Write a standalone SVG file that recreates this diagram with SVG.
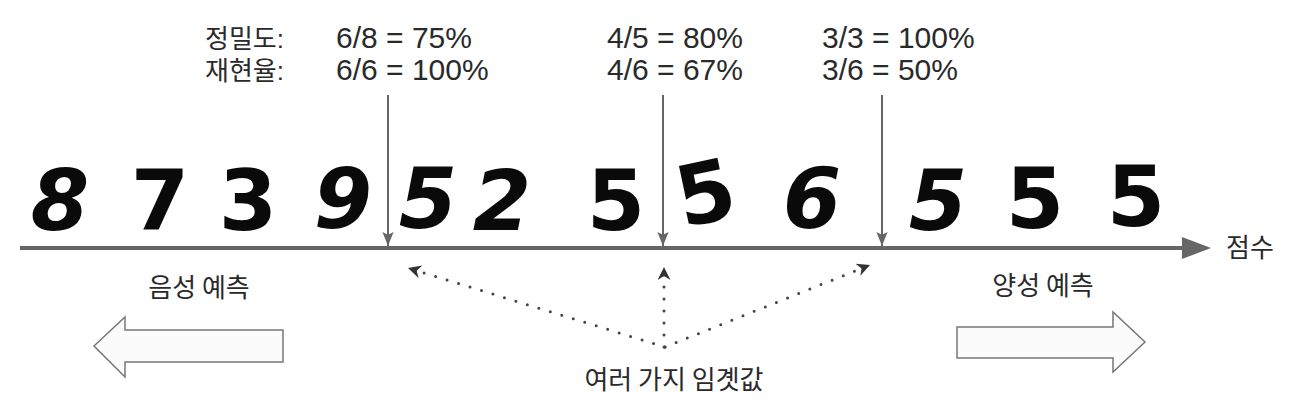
<svg xmlns="http://www.w3.org/2000/svg" width="1302" height="405" viewBox="0 0 1302 405">
<defs>
<style>
.lbl{font-family:"Liberation Sans","Noto Sans CJK KR",sans-serif;font-size:30px;fill:#2a2a2a}
.kr{font-family:"Noto Sans CJK KR","Liberation Sans",sans-serif;font-size:26px;fill:#2a2a2a}
.krl{font-family:"Liberation Sans","Noto Sans CJK KR",sans-serif;font-size:26px;fill:#2a2a2a}
.dg{font-family:"DejaVu Sans",sans-serif;font-weight:bold;font-size:84px;fill:#0a0a0a}
.thr{stroke:#666;stroke-width:2;fill:none}
.dot{stroke:#444;stroke-width:3;stroke-linecap:round;stroke-dasharray:0 12;fill:none}
.big{fill:#fbfbfb;stroke:#777;stroke-width:1.5}
</style>
<marker id="vh" viewBox="0 0 10 10" refX="10" refY="5" markerWidth="16" markerHeight="14" markerUnits="userSpaceOnUse" orient="auto"><path d="M0,1 L10,5 L0,9 L2,5 Z" fill="#666"/></marker>
<marker id="dh" viewBox="0 0 10 10" refX="10" refY="5" markerWidth="15" markerHeight="13" markerUnits="userSpaceOnUse" orient="auto"><path d="M0,0 L10,5 L0,10 L3,5 Z" fill="#333"/></marker>
</defs>
<rect width="1302" height="405" fill="#ffffff"/>

<g id="digits">
<text class="dg" x="60" y="230" text-anchor="middle" font-style="italic">8</text>
<text class="dg" x="160" y="230" text-anchor="middle">7</text>
<text class="dg" x="248" y="230" text-anchor="middle">3</text>
<text class="dg" x="343" y="228" text-anchor="middle" font-style="italic" font-weight="normal">9</text>
<text class="dg" x="428" y="228" text-anchor="middle" font-style="italic" font-weight="normal">5</text>
<text class="dg" x="502" y="230" text-anchor="middle" font-style="italic" font-weight="normal">2</text>
<text class="dg" x="616" y="230" text-anchor="middle" font-weight="normal">5</text>
<text class="dg" x="708" y="222" text-anchor="middle" font-weight="normal" font-size="58" transform="rotate(-12 708 205)">5</text>
<text class="dg" x="812" y="228" text-anchor="middle" font-style="italic">6</text>
<text class="dg" x="938" y="230" text-anchor="middle" font-style="italic">5</text>
<text class="dg" x="1035" y="228" text-anchor="middle" font-weight="normal">5</text>
<text class="dg" x="1136" y="226" text-anchor="middle">5</text>
</g>

<g id="connectors">
<line x1="20" y1="248" x2="1184" y2="248" stroke="#666" stroke-width="4"/>
<path d="M1182,237 L1211,248 L1182,259 Z" fill="#666"/>
<line class="thr" x1="388" y1="95" x2="388" y2="246" marker-end="url(#vh)"/>
<line class="thr" x1="663" y1="95" x2="663" y2="246" marker-end="url(#vh)"/>
<line class="thr" x1="882" y1="95" x2="882" y2="246" marker-end="url(#vh)"/>
<line class="dot" x1="665" y1="347" x2="408" y2="268" marker-end="url(#dh)"/>
<line class="dot" x1="664" y1="347" x2="664" y2="267" marker-end="url(#dh)"/>
<line class="dot" x1="665" y1="347" x2="870" y2="265" marker-end="url(#dh)"/>
</g>

<g id="labels">
<text class="krl" x="205" y="48">정밀도:</text>
<text class="krl" x="205" y="80">재현율:</text>
<text class="lbl" x="336" y="48">6/8 = 75%</text>
<text class="lbl" x="336" y="80">6/6 = 100%</text>
<text class="lbl" x="607" y="48">4/5 = 80%</text>
<text class="lbl" x="607" y="80">4/6 = 67%</text>
<text class="lbl" x="822" y="48">3/3 = 100%</text>
<text class="lbl" x="822" y="80">3/6 = 50%</text>
<text class="kr" x="1226" y="257">점수</text>
</g>

<g id="neg">
<text class="kr" x="199" y="297" text-anchor="middle">음성 예측</text>
<path class="big" d="M94,346 L125,317 L125,330 L283,330 L283,362 L125,362 L125,377 Z"/>
</g>
<g id="pos">
<text class="kr" x="1043" y="295" text-anchor="middle">양성 예측</text>
<path class="big" d="M957,327 L1113,327 L1113,312 L1145,342 L1113,372 L1113,358 L957,358 Z"/>
</g>
<g id="thresholds">
<text class="kr" x="674" y="389" text-anchor="middle">여러 가지 임곗값</text>
</g>
</svg>
